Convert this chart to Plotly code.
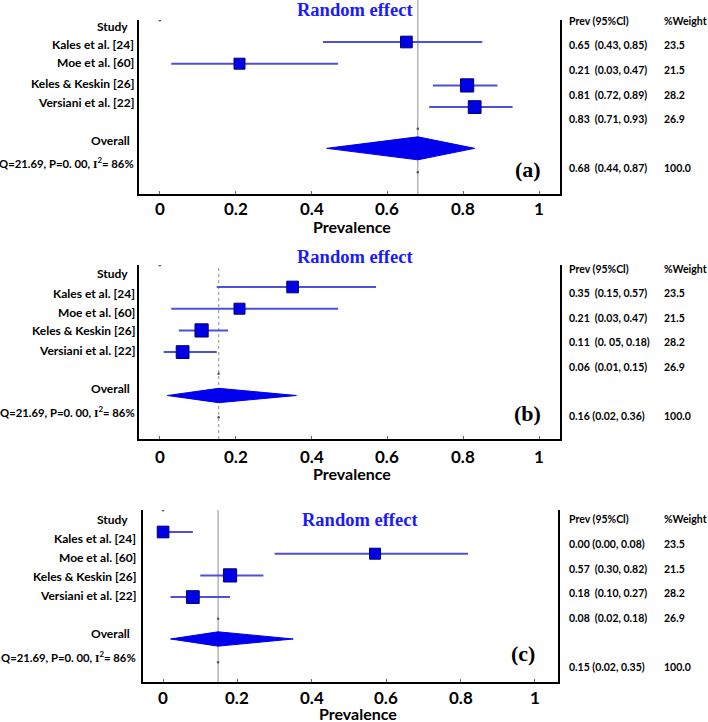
import plotly.graph_objects as go

W, H = 708, 722

studies = ["Kales et al. [24]", "Moe et al. [60]", "Keles & Keskin [26]", "Versiani et al. [22]"]
weights = [23.5, 21.5, 28.2, 26.9]
weight_labels = ["23.5", "21.5", "28.2", "26.9", "100.0"]

prev_a = [0.65, 0.21, 0.81, 0.83]
lo_a = [0.43, 0.03, 0.72, 0.71]
hi_a = [0.85, 0.47, 0.89, 0.93]
diamond_a = [0.44, 0.68, 0.83]
ci_text_a = ["0.65  (0.43, 0.85)", "0.21  (0.03, 0.47)", "0.81  (0.72, 0.89)", "0.83  (0.71, 0.93)", "0.68  (0.44, 0.87)"]

prev_b = [0.35, 0.21, 0.11, 0.06]
lo_b = [0.15, 0.03, 0.05, 0.01]
hi_b = [0.57, 0.47, 0.18, 0.15]
diamond_b = [0.02, 0.155, 0.36]
ci_text_b = ["0.35  (0.15, 0.57)", "0.21  (0.03, 0.47)", "0.11  (0. 05, 0.18)", "0.06  (0.01, 0.15)", "0.16 (0.02, 0.36)"]

prev_c = [0.00, 0.57, 0.18, 0.08]
lo_c = [0.00, 0.30, 0.10, 0.02]
hi_c = [0.08, 0.82, 0.27, 0.18]
diamond_c = [0.02, 0.148, 0.35]
ci_text_c = ["0.00 (0.00, 0.08)", "0.57  (0.30, 0.82)", "0.18  (0.10, 0.27)", "0.08  (0.02, 0.18)", "0.15 (0.02, 0.35)"]

x_ticks = [0, 0.2, 0.4, 0.6, 0.8, 1]
x_ticktext = ["0", "0.2", "0.4", "0.6", "0.8", "1"]
stats_text = "Q=21.69, P=0. 00, <span style=\"font-family:'Liberation Serif'\">I</span><sup>2</sup>= 86%"
panel_tags = ["(a)", "(b)", "(c)"]

SANS = "Lato"
SERIF = "Liberation Serif"
LINE_BLUE = "#4f4fd8"
SQ_BLUE = "#0000e6"
DIA_BLUE = "#0000ee"
TITLE_BLUE = "#1a1aff"

# panel layout (pixels)
panels = [
    dict(data=(prev_a, lo_a, hi_a, diamond_a, ci_text_a), left=139, right=560, top=20, bottom=194, m1=42,
         xr=[-0.055, 1.055], orow=5.9, dh=0.53, dash="solid", ref_top=1.12,
         title_y=10, title_x=355, tick_y=208, prev_y=226,
         lab_rows=[27, 45, 63, 83, 103, 140, 163], lab_right=135,
         tab_rows=[21, 45, 70, 95, 119, 168], tag=(528, 170)),
    dict(data=(prev_b, lo_b, hi_b, diamond_b, ci_text_b), left=139, right=560, top=265, bottom=439, m1=287,
         xr=[-0.055, 1.055], orow=6.0, dh=0.33, dash="dot", ref_top=1.0,
         title_y=257, title_x=355, tick_y=457, prev_y=474,
         lab_rows=[274, 293, 312, 331, 350, 388, 411], lab_right=136,
         tab_rows=[269, 293, 318, 342, 367, 416], tag=(527, 413)),
    dict(data=(prev_c, lo_c, hi_c, diamond_c, ci_text_c), left=143, right=558, top=510, bottom=682, m1=532,
         xr=[-0.054, 1.062], orow=5.93, dh=0.33, dash="solid", ref_top=1.0,
         title_y=520, title_x=360, tick_y=697, prev_y=713,
         lab_rows=[519, 538, 557, 576, 595, 633, 656], lab_right=137,
         tab_rows=[519, 544, 569, 593, 618, 667], tag=(523, 653)),
]
SP = 21.7

fig = go.Figure()
annotations = []
shapes = []
layout_axes = {}

def px(x):
    return x / W

def py(y):
    return 1 - y / H

def txt(x, y, text, size, anchor="left", family=SANS, color="black"):
    annotations.append(dict(x=px(x), y=py(y), xref="paper", yref="paper", text=text,
                            showarrow=False, xanchor=anchor, yanchor="middle", borderpad=0,
                            font=dict(family=family, size=size, color=color)))

for k, p in enumerate(panels):
    n = "" if k == 0 else str(k + 1)
    xa, ya = "x" + n, "y" + n
    prev, lo, hi, dia, ci_text = p["data"]
    rows = [1, 2, 3, 4]

    # CI lines
    lx, ly = [], []
    for r, a, b in zip(rows, lo, hi):
        lx += [a, b, None]
        ly += [r, r, None]
    fig.add_trace(go.Scatter(x=lx, y=ly, mode="lines", line=dict(color=LINE_BLUE, width=2),
                             xaxis=xa, yaxis=ya, hoverinfo="skip", showlegend=False))
    # squares sized by weight
    sizes = [11 + (w - 21.5) / (28.2 - 21.5) * 2.2 for w in weights]
    fig.add_trace(go.Scatter(x=prev, y=rows, mode="markers",
                             marker=dict(symbol="square", size=sizes, color=SQ_BLUE, opacity=1,
                                         line=dict(color="#00006e", width=1)),
                             xaxis=xa, yaxis=ya, showlegend=False))
    # diamond
    r0 = p["orow"]
    dh = p["dh"]
    fig.add_trace(go.Scatter(x=[dia[0], dia[1], dia[2], dia[1], dia[0]],
                             y=[r0, r0 - dh, r0, r0 + dh, r0],
                             mode="lines", fill="toself", fillcolor=DIA_BLUE,
                             line=dict(color=DIA_BLUE, width=1),
                             xaxis=xa, yaxis=ya, showlegend=False))
    # small dots
    fig.add_trace(go.Scatter(x=[0, dia[1], dia[1]], y=[0, 5, 7], mode="markers",
                             marker=dict(size=2.5, color="#555555"),
                             xaxis=xa, yaxis=ya, showlegend=False, hoverinfo="skip"))
    # reference line
    shapes.append(dict(type="line", xref=xa, yref=ya + " domain", x0=dia[1], x1=dia[1],
                       y0=0, y1=p["ref_top"], layer="below",
                       line=dict(color="#a8a8a8", width=1.3, dash=p["dash"])))

    T, B, M1 = p["top"], p["bottom"], p["m1"]
    yr = [1 + (B - M1) / SP, 1 - (M1 - T) / SP]
    layout_axes["xaxis" + n] = dict(
        domain=[px(p["left"]), px(p["right"])], range=p["xr"], anchor=ya,
        tickvals=x_ticks, showticklabels=False,
        showline=True, linecolor="black", linewidth=2, ticks="inside", ticklen=3,
        tickcolor="#666666", showgrid=False, zeroline=False, fixedrange=True)
    layout_axes["yaxis" + n] = dict(
        domain=[py(B), py(T)], range=yr, anchor=xa, showticklabels=False,
        showline=True, linecolor="black", linewidth=2, mirror=True, ticks="",
        showgrid=False, zeroline=False, fixedrange=True)

    # tick labels as annotations at axis positions
    for tv, tt in zip(x_ticks, x_ticktext):
        annotations.append(dict(x=tv, xref=xa, y=py(p["tick_y"]), yref="paper", text="<b>%s</b>" % tt,
                                showarrow=False, xanchor="center", yanchor="middle", borderpad=0,
                                font=dict(family=SANS, size=17, color="black")))
    txt(352 if k < 2 else 358, p["prev_y"], "<b>Prevalence</b>", 16, "center")
    txt(p["title_x"], p["title_y"], "<b>Random effect</b>", 18.5, "center", SERIF, TITLE_BLUE)
    txt(p["tag"][0], p["tag"][1], "<b>%s</b>" % panel_tags[k], 22, "center", SERIF)

    lr = p["lab_rows"]
    txt(112, lr[0], "<b>Study</b>", 12, "center")
    for s, yy in zip(studies, lr[1:5]):
        txt(p["lab_right"], yy, "<b>%s</b>" % s, 12, "right")
    txt(110, lr[5], "<b>Overall</b>", 12, "center")
    txt(p["lab_right"], lr[6], "<b>%s</b>" % stats_text, 11.3, "right")

    tr = p["tab_rows"]
    txt(568, tr[0], "<b>Prev (95%Cl)</b>", 10.5)
    txt(663, tr[0], "<b>%Weight</b>", 10.5)
    for t, wl, yy in zip(ci_text, weight_labels, tr[1:]):
        txt(568, yy, "<b>%s</b>" % t.replace("  ", "&nbsp;&nbsp;"), 10.5)
        txt(663, yy, "<b>%s</b>" % wl, 10.5)

fig.update_layout(
    width=W, height=H, margin=dict(l=0, r=0, t=0, b=0),
    paper_bgcolor="white", plot_bgcolor="white",
    showlegend=False, annotations=annotations, shapes=shapes, **layout_axes)

fig.write_html("out.html", config={"displayModeBar": False},
               post_script="document.body.style.margin='0';document.body.style.overflow='hidden';")
